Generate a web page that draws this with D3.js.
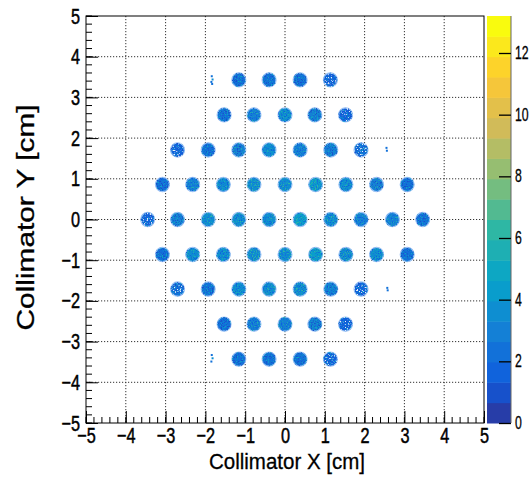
<!DOCTYPE html>
<html>
<head>
<meta charset="utf-8">
<script src="https://cdn.jsdelivr.net/npm/d3@7"></script>
<style>
  html, body { margin: 0; padding: 0; background: #fff; }
  svg { display: block; }
  text { font-family: "Liberation Sans", Arial, Helvetica, sans-serif; fill: #000; }
</style>
</head>
<body>
<svg id="chart" width="529" height="487"></svg>
<script>
// ---------------- data ----------------
const xTicks = [-5, -4, -3, -2, -1, 0, 1, 2, 3, 4, 5];
const yTicks = [-5, -4, -3, -2, -1, 0, 1, 2, 3, 4, 5];
const zTicks = [0, 2, 4, 6, 8, 10, 12];
const zMax = 13.2;
const nContours = 20;
const xTitle = "Collimator X [cm]";
const yTitle = "Collimator Y [cm]";

// spot centres (cm) and mean bin content per spot
const spotX = [
  -1.16, -0.40, 0.38, 1.14,
  -1.53, -0.78, 0.00, 0.75, 1.52,
  -2.70, -1.93, -1.16, -0.40, 0.38, 1.15, 1.91,
  -3.08, -2.32, -1.55, -0.78, 0.00, 0.77, 1.53, 2.30, 3.07,
  -3.45, -2.70, -1.93, -1.16, -0.40, 0.38, 1.15, 1.91, 2.70, 3.46,
  -3.08, -2.32, -1.55, -0.78, 0.00, 0.77, 1.53, 2.30, 3.07,
  -2.70, -1.93, -1.16, -0.40, 0.38, 1.15, 1.91,
  -1.53, -0.78, 0.00, 0.75, 1.52,
  -1.16, -0.40, 0.38, 1.14
];
const spotY = [
  3.43, 3.43, 3.43, 3.43,
  2.57, 2.57, 2.57, 2.57, 2.57,
  1.71, 1.71, 1.71, 1.71, 1.71, 1.71, 1.71,
  0.86, 0.86, 0.86, 0.86, 0.86, 0.86, 0.86, 0.86, 0.86,
  0.00, 0.00, 0.00, 0.00, 0.00, 0.00, 0.00, 0.00, 0.00, 0.00,
  -0.86, -0.86, -0.86, -0.86, -0.86, -0.86, -0.86, -0.86, -0.86,
  -1.71, -1.71, -1.71, -1.71, -1.71, -1.71, -1.71,
  -2.57, -2.57, -2.57, -2.57, -2.57,
  -3.43, -3.43, -3.43, -3.43
];
const spotMean = [
  2.3, 2.6, 2.4, 1.6,
  2.4, 3.2, 3.3, 2.7, 1.7,
  1.7, 2.4, 3.0, 3.5, 3.2, 2.7, 2.0,
  2.2, 3.2, 3.4, 3.8, 3.9, 4.0, 3.5, 3.0, 2.3,
  1.8, 2.8, 3.8, 3.7, 3.7, 4.0, 3.6, 3.2, 3.2, 2.6,
  2.4, 3.5, 3.5, 3.9, 3.8, 4.0, 3.6, 3.3, 2.4,
  2.0, 2.6, 3.3, 3.6, 3.7, 2.8, 1.9,
  2.2, 3.2, 3.2, 2.7, 1.8,
  2.3, 2.6, 2.6, 1.7
];
// isolated stray bins (cm) and their content
const strayX = [-1.84, -1.82, -1.85, -1.83, 2.55, 2.56, 2.57, 2.58, -1.84, -1.82, -1.85];
const strayY = [3.52, 3.44, 3.38, 3.33, 1.76, 1.69, -1.68, -1.74, -3.33, -3.41, -3.49];
const strayVal = [1, 2, 1, 1, 1, 1, 1, 1, 1, 2, 1];

// ---------------- palette (ROOT kBird) ----------------
const bStops = [0.0, 0.125, 0.25, 0.375, 0.5, 0.625, 0.75, 0.875, 1.0];
const bR = [0.2082, 0.0592, 0.0780, 0.0232, 0.1802, 0.5301, 0.8186, 0.9956, 0.9764];
const bG = [0.1664, 0.3599, 0.5041, 0.6419, 0.7178, 0.7492, 0.7328, 0.7862, 0.9832];
const bB = [0.5293, 0.8684, 0.8385, 0.7914, 0.6425, 0.4662, 0.3499, 0.1968, 0.0539];
function birdAt(f) {
  let k = 0;
  while (k < bStops.length - 2 && f > bStops[k + 1]) k++;
  const t = (f - bStops[k]) / (bStops[k + 1] - bStops[k]);
  const c = a => Math.round(255 * (a[k] + (a[k + 1] - a[k]) * t));
  return `rgb(${c(bR)},${c(bG)},${c(bB)})`;
}
function bandColor(i) {
  const idx = Math.floor((i + 0.99) * 255 / nContours);
  return birdAt(Math.min(idx, 254) / 254);
}
function valueColor(v) {
  const i = Math.max(0, Math.min(nContours - 1, Math.floor(v / zMax * nContours)));
  return bandColor(i);
}

// ---------------- layout ----------------
const svg = d3.select("#chart");
const L = 86, R = 484, T = 16, B = 423;
const x = d3.scaleLinear().domain([-5, 5]).range([L, R]);
const y = d3.scaleLinear().domain([-5, 5]).range([B, T]);
const spotR = 0.175;
const condense = 0.74;

// speckle filters (visual texture of the binned spots)
const defs = svg.append("defs");
function speckFilter(id, seed, freq, k, thr) {
  const f = defs.append("filter").attr("id", id)
    .attr("x", L).attr("y", T).attr("width", R - L).attr("height", B - T)
    .attr("filterUnits", "userSpaceOnUse");
  f.append("feTurbulence").attr("type", "fractalNoise").attr("baseFrequency", freq)
    .attr("numOctaves", 2).attr("seed", seed).attr("result", "n");
  f.append("feColorMatrix").attr("in", "n").attr("type", "matrix")
    .attr("values", `0 0 0 0 0  0 0 0 0 0  0 0 0 0 0  ${k} 0 0 0 ${-k * thr}`).attr("result", "m");
  f.append("feComposite").attr("in", "SourceGraphic").attr("in2", "m").attr("operator", "in");
}
speckFilter("spkLight", 3, 0.8, 6, 0.55);
speckFilter("spkDark", 11, 0.8, 6, 0.54);
speckFilter("spkWhite", 23, 0.7, 6, 0.58);

// grid
const grid = svg.append("g");
grid.selectAll("line.gx").data(xTicks.slice(1, -1)).enter().append("line")
  .attr("x1", d => x(d)).attr("x2", d => x(d)).attr("y1", T).attr("y2", B)
  .attr("stroke", "#333").attr("stroke-width", 1).attr("stroke-dasharray", "1.2,1.8");
grid.selectAll("line.gy").data(yTicks.slice(1, -1)).enter().append("line")
  .attr("y1", d => y(d)).attr("y2", d => y(d)).attr("x1", L).attr("x2", R)
  .attr("stroke", "#333").attr("stroke-width", 1).attr("stroke-dasharray", "1.2,1.8");

// spots
const spots = d3.range(spotX.length).map(i => ({x: spotX[i], y: spotY[i], v: spotMean[i]}));
const rx = x(spotR) - x(0), ry = y(0) - y(spotR);
function spotLayer(data, fill, filter) {
  const g = svg.append("g");
  if (filter) g.attr("filter", `url(#${filter})`);
  return g.selectAll("ellipse").data(data).enter().append("ellipse")
    .attr("cx", d => x(d.x)).attr("cy", d => y(d.y))
    .attr("rx", rx).attr("ry", ry)
    .attr("fill", fill);
}
spotLayer(spots, d => valueColor(d.v), null)
  .attr("stroke", "#9cc2f4").attr("stroke-width", 1.2);
spotLayer(spots, d => valueColor(d.v + 2.4), "spkLight");
spotLayer(spots, d => valueColor(Math.max(d.v - 1.8, 1.0)), "spkDark");
spotLayer(spots.filter(d => d.v < 2.1), "#e8f0fc", "spkWhite");

// stray bins
const strays = d3.range(strayX.length).map(i => ({x: strayX[i], y: strayY[i], v: strayVal[i]}));
svg.append("g").selectAll("rect").data(strays).enter().append("rect")
  .attr("x", d => x(d.x) - 1).attr("y", d => y(d.y) - 1)
  .attr("width", 2).attr("height", 2)
  .attr("fill", d => valueColor(d.v + 1.5));

// frame
svg.append("rect").attr("x", L).attr("y", T).attr("width", R - L).attr("height", B - T)
  .attr("fill", "none").attr("stroke", "#000").attr("stroke-width", 1);

// minor ticks
const xMinor = d3.range(-5, 5.001, 0.2).map(v => +v.toFixed(2));
const yMinor = d3.range(-5, 5.001, 0.2).map(v => +v.toFixed(2));
const ax = svg.append("g").attr("stroke", "#000");
ax.selectAll("line.xm").data(xMinor).enter().append("line")
  .attr("x1", d => x(d)).attr("x2", d => x(d)).attr("y1", B).attr("y2", B - 6).attr("stroke-width", 1);
ax.selectAll("line.ym").data(yMinor).enter().append("line")
  .attr("y1", d => y(d)).attr("y2", d => y(d)).attr("x1", L).attr("x2", L + 6).attr("stroke-width", 1);

// major axes via d3 axis
const xAxis = svg.append("g").attr("transform", `translate(0,${B})`)
  .call(d3.axisBottom(x).tickValues(xTicks).tickSize(-12).tickPadding(4).tickFormat(d3.format("d")));
const yAxis = svg.append("g").attr("transform", `translate(${L},0)`)
  .call(d3.axisLeft(y).tickValues(yTicks).tickSize(-12).tickPadding(6).tickFormat(d3.format("d")));
[xAxis, yAxis].forEach(g => {
  g.select(".domain").remove();
  g.selectAll(".tick line").attr("stroke", "#000");
  g.selectAll("text").attr("font-size", 22).attr("font-family", '"Liberation Sans", Arial, sans-serif')
    .attr("stroke", "#000").attr("stroke-width", 0.5);
});
xAxis.selectAll("text").attr("transform", `scale(${condense},1)`);
yAxis.selectAll("text").attr("x", -6 / condense).attr("transform", `scale(${condense},1)`);

// axis titles
svg.append("text").attr("x", 287).attr("y", 469).attr("text-anchor", "middle")
  .attr("font-size", 22).attr("textLength", 156).attr("lengthAdjust", "spacingAndGlyphs")
  .attr("stroke", "#000").attr("stroke-width", 0.3)
  .text(xTitle);
svg.append("text").attr("transform", "translate(34,217.5) rotate(-90)")
  .attr("text-anchor", "middle").attr("font-size", 23.5)
  .attr("textLength", 226).attr("lengthAdjust", "spacingAndGlyphs")
  .attr("stroke", "#000").attr("stroke-width", 0.3)
  .text(yTitle);

// colour bar
const cbL = 487, cbR = 511;
const z = d3.scaleLinear().domain([0, zMax]).range([B, T]);
const bands = d3.range(nContours);
svg.append("g").selectAll("rect").data(bands).enter().append("rect")
  .attr("x", cbL).attr("width", cbR - cbL)
  .attr("y", i => z((i + 1) * zMax / nContours))
  .attr("height", i => z(i * zMax / nContours) - z((i + 1) * zMax / nContours) + 0.5)
  .attr("fill", i => bandColor(i));
svg.append("line").attr("x1", cbR).attr("x2", cbR).attr("y1", T).attr("y2", B)
  .attr("stroke", "#666").attr("stroke-width", 1);
const zAxis = svg.append("g").attr("transform", `translate(${cbR},0)`)
  .call(d3.axisRight(z).tickValues(zTicks).tickSize(-12).tickPadding(4).tickFormat(d3.format("d")));
zAxis.select(".domain").remove();
zAxis.selectAll(".tick line").attr("stroke", "#000").attr("stroke-width", 1.3);
zAxis.selectAll("text").attr("font-size", 17.5)
  .attr("stroke", "#000").attr("stroke-width", 0.3)
  .attr("x", 4 / 0.7).attr("transform", "scale(0.7,1)");
</script>
</body>
</html>
